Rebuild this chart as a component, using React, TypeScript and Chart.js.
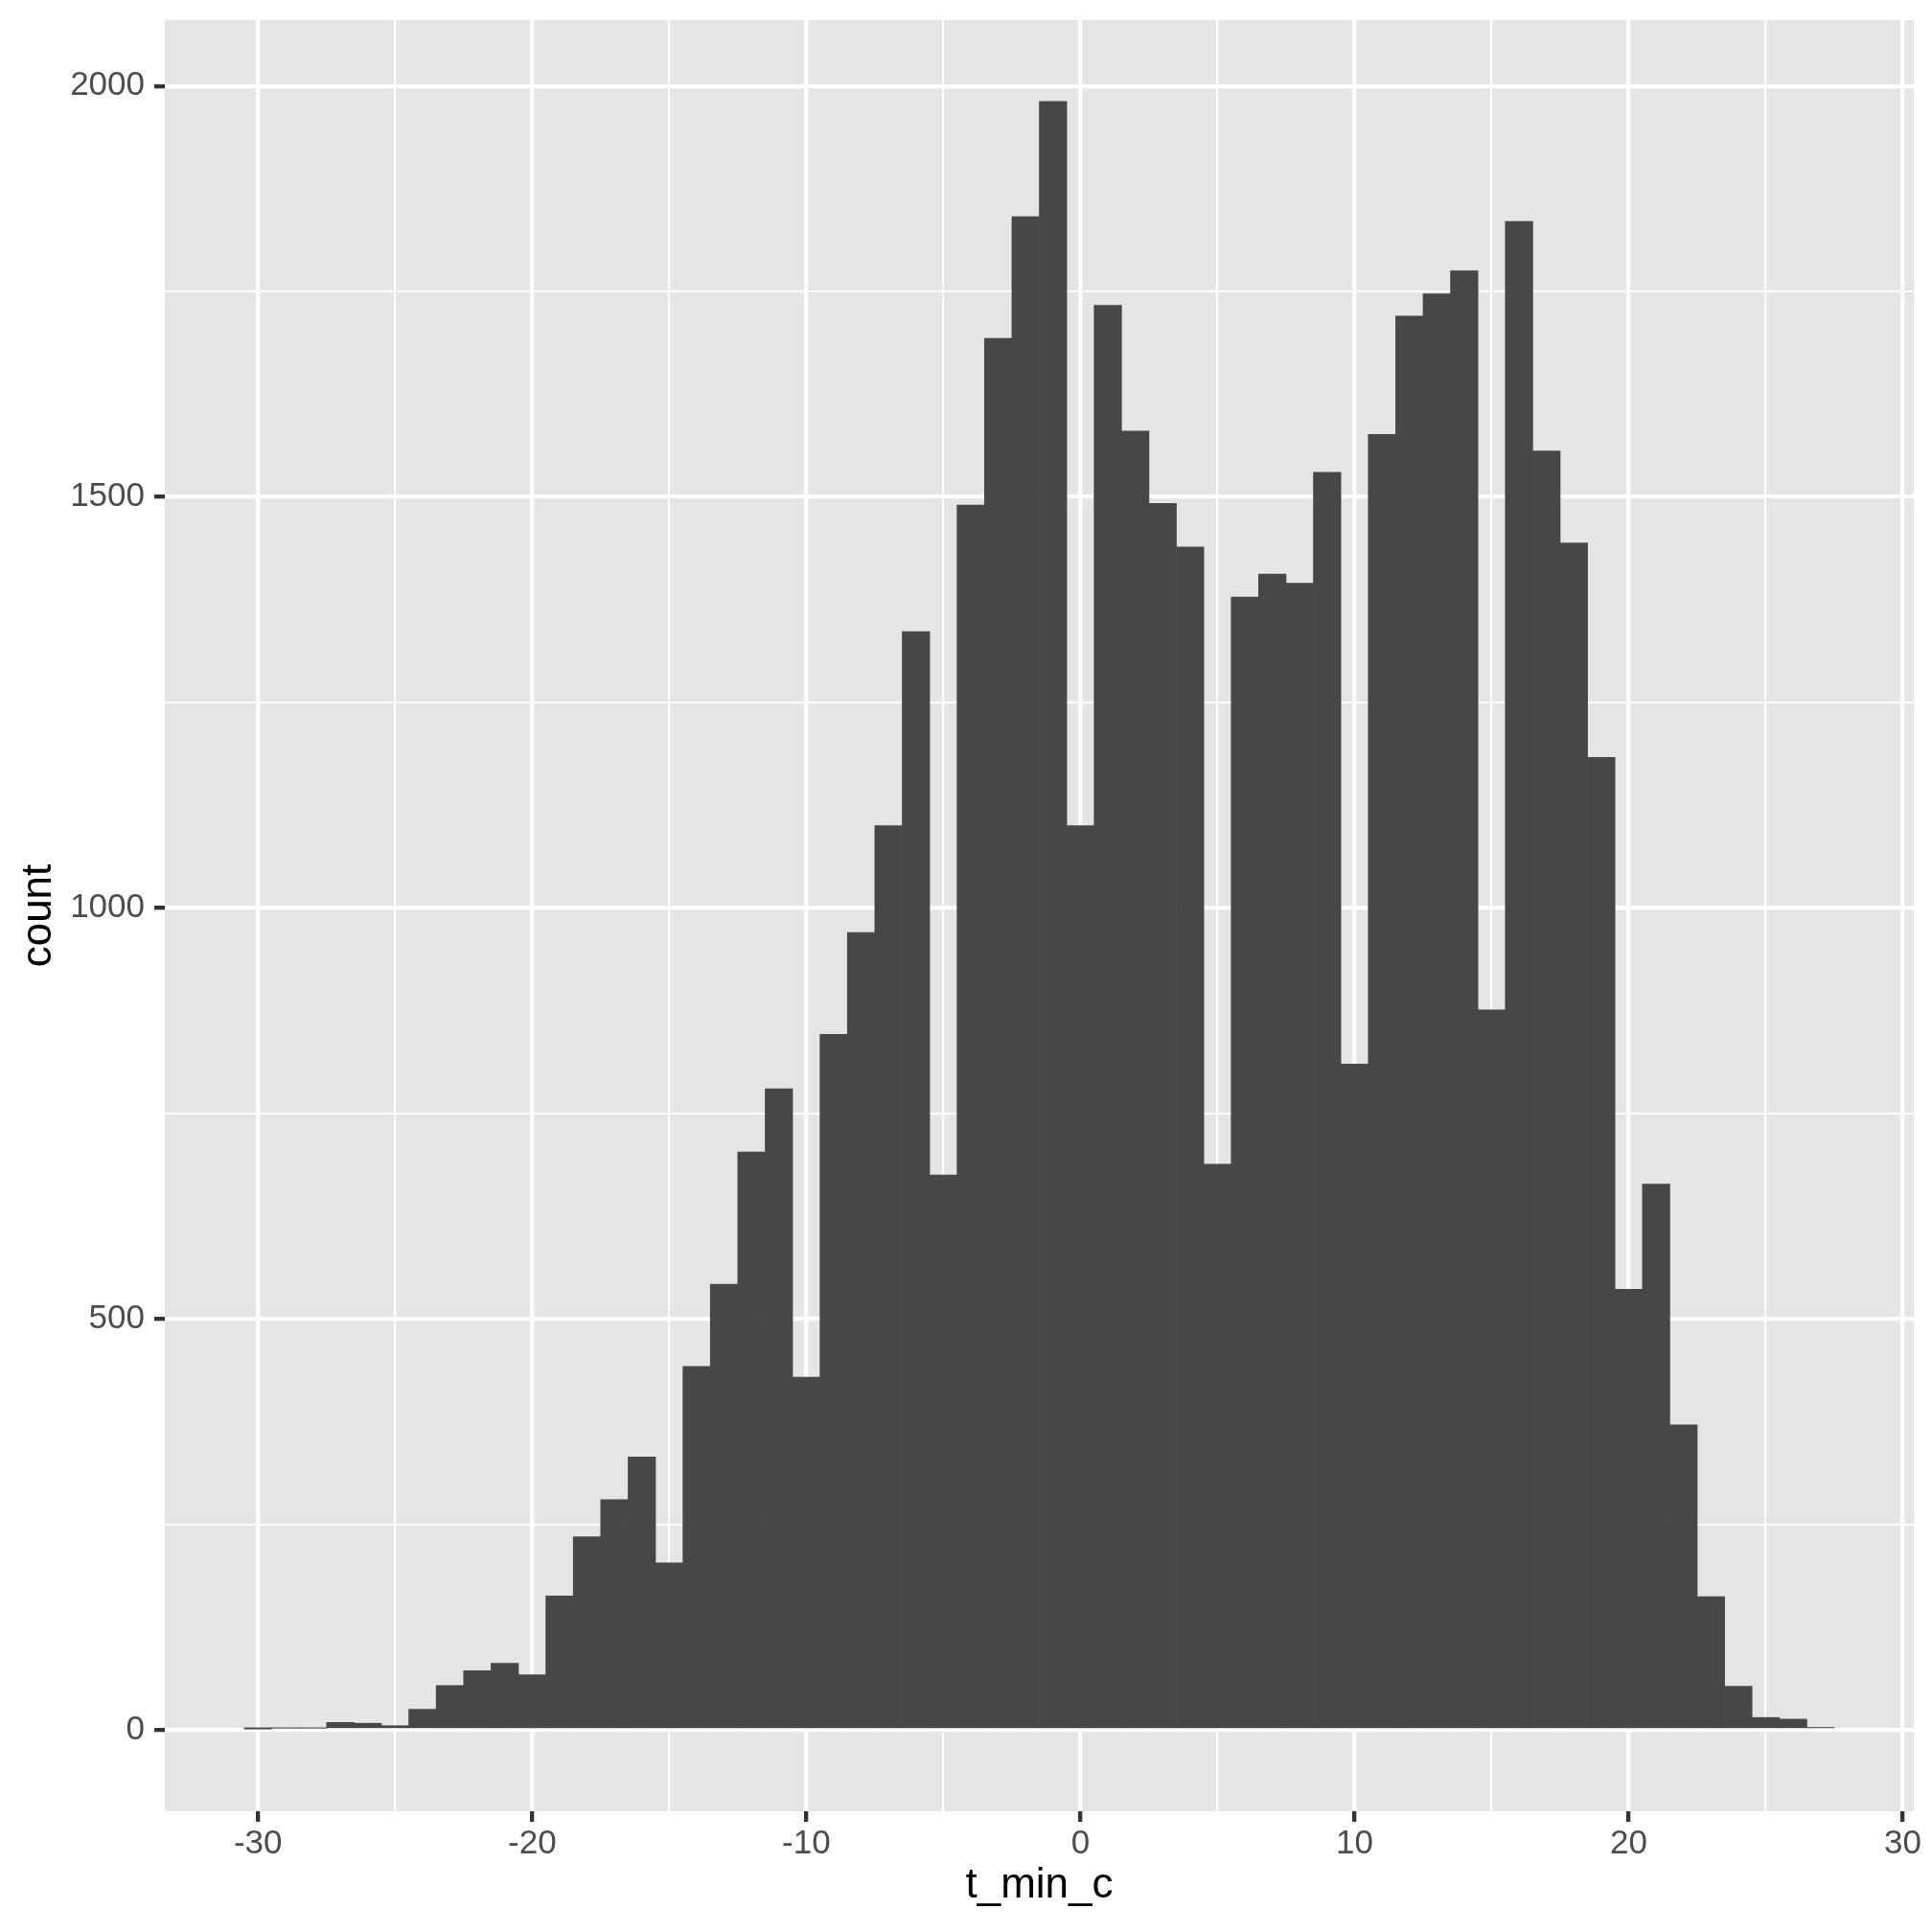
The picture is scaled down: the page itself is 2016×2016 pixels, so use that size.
import React, { useEffect, useRef } from "react";
import { Chart, registerables } from "chart.js";

Chart.register(...registerables);

// Histogram of t_min_c, binwidth 1 (bin centres)
const binCenters = [
  -30, -29, -28, -27, -26, -25, -24, -23, -22, -21, -20, -19, -18, -17, -16,
  -15, -14, -13, -12, -11, -10, -9, -8, -7, -6, -5, -4, -3, -2, -1, 0, 1, 2,
  3, 4, 5, 6, 7, 8, 9, 10, 11, 12, 13, 14, 15, 16, 17, 18, 19, 20, 21, 22, 23,
  24, 25, 26, 27,
];
const counts = [
  1, 2, 2, 9, 8, 5, 25, 54, 72, 81, 67, 163, 235, 280, 332, 203, 442, 542, 703,
  780, 429, 846, 970, 1100, 1336, 675, 1490, 1693, 1841, 1981, 1100, 1733, 1580,
  1492, 1439, 688, 1378, 1406, 1395, 1530, 810, 1576, 1720, 1747, 1775, 876,
  1835, 1556, 1444, 1183, 536, 664, 371, 162, 53, 15, 13, 3,
];
const xMajorTicks = [-30, -20, -10, 0, 10, 20, 30];
const xMinorTicks = [-25, -15, -5, 5, 15, 25];
const yMajorTicks = [0, 500, 1000, 1500, 2000];
const yMinorTicks = [250, 750, 1250, 1750];
const xTitle = "t_min_c";
const yTitle = "count";

const FONT = "'Liberation Sans', Arial, Helvetica, sans-serif";

export default function App() {
  const ref = useRef<HTMLCanvasElement | null>(null);

  useEffect(() => {
    document.body.style.margin = "0";
    const canvas = ref.current;
    if (!canvas) return;

    const panelBg = {
      id: "panelBg",
      beforeDraw(chart: any) {
        const { ctx, chartArea } = chart;
        ctx.save();
        ctx.fillStyle = "#FFFFFF";
        ctx.fillRect(0, 0, chart.width, chart.height);
        ctx.fillStyle = "#E5E5E5";
        ctx.fillRect(
          chartArea.left,
          chartArea.top,
          chartArea.right - chartArea.left,
          chartArea.bottom - chartArea.top
        );
        ctx.restore();
      },
    };

    const xAll = [...xMajorTicks, ...xMinorTicks].sort((a, b) => a - b);
    const yAll = [...yMajorTicks, ...yMinorTicks].sort((a, b) => a - b);
    const maxCount = Math.max(...counts);
    const yPad = maxCount * 0.05;

    const chart = new Chart(canvas, {
      type: "bar",
      data: {
        datasets: [
          {
            data: binCenters.map((x, i) => ({ x, y: counts[i] })),
            backgroundColor: "#474747",
            borderWidth: 0,
            barPercentage: 1,
            categoryPercentage: 1,
          },
        ],
      },
      options: {
        animation: false,
        responsive: false,
        devicePixelRatio: 1,
        layout: { padding: { top: 21, right: 19, left: 0, bottom: 0 } },
        plugins: {
          legend: { display: false },
          tooltip: { enabled: false },
        },
        scales: {
          x: {
            type: "linear",
            offset: false,
            min: -33.4,
            max: 30.4,
            border: { display: false },
            afterBuildTicks: (scale: any) => {
              scale.ticks = xAll.map((v) => ({ value: v }));
            },
            afterFit: (scale: any) => {
              scale.height = 126;
              scale.paddingLeft = 0;
              scale.paddingRight = 0;
            },
            grid: {
              offset: false,
              color: "#FFFFFF",
              lineWidth: (c: any) =>
                xMajorTicks.includes(c.tick?.value) ? 4.3 : 2.1,
              drawTicks: true,
              tickLength: 11,
              tickWidth: 4.3,
              tickColor: (c: any) =>
                xMajorTicks.includes(c.tick?.value) ? "#333333" : "rgba(0,0,0,0)",
            },
            ticks: {
              autoSkip: false,
              maxRotation: 0,
              padding: 2,
              color: "#4D4D4D",
              font: { family: FONT, size: 35 },
              callback: (v: any) =>
                xMajorTicks.includes(Number(v)) ? String(v) : "",
            },
            title: {
              display: true,
              text: xTitle,
              color: "#000000",
              font: { family: FONT, size: 44 },
              padding: { top: 0, bottom: 22 },
            },
          },
          y: {
            type: "linear",
            min: -yPad,
            max: maxCount + yPad,
            border: { display: false },
            afterBuildTicks: (scale: any) => {
              scale.ticks = yAll.map((v) => ({ value: v }));
            },
            afterFit: (scale: any) => {
              scale.width = 172;
              scale.paddingTop = 0;
              scale.paddingBottom = 0;
            },
            grid: {
              color: "#FFFFFF",
              lineWidth: (c: any) =>
                yMajorTicks.includes(c.tick?.value) ? 4.3 : 2.1,
              drawTicks: true,
              tickLength: 11,
              tickWidth: 4.3,
              tickColor: (c: any) =>
                yMajorTicks.includes(c.tick?.value) ? "#333333" : "rgba(0,0,0,0)",
            },
            ticks: {
              autoSkip: false,
              padding: 10,
              color: "#4D4D4D",
              font: { family: FONT, size: 35 },
              callback: (v: any) =>
                yMajorTicks.includes(Number(v)) ? String(v) : "",
            },
            title: {
              display: true,
              text: yTitle,
              color: "#000000",
              font: { family: FONT, size: 44 },
              padding: { top: 14, bottom: 0 },
            },
          },
        },
      },
      plugins: [panelBg],
    });

    return () => chart.destroy();
  }, []);

  return (
    <canvas
      ref={ref}
      width={2016}
      height={2016}
      style={{ display: "block", width: 2016, height: 2016 }}
    />
  );
}
